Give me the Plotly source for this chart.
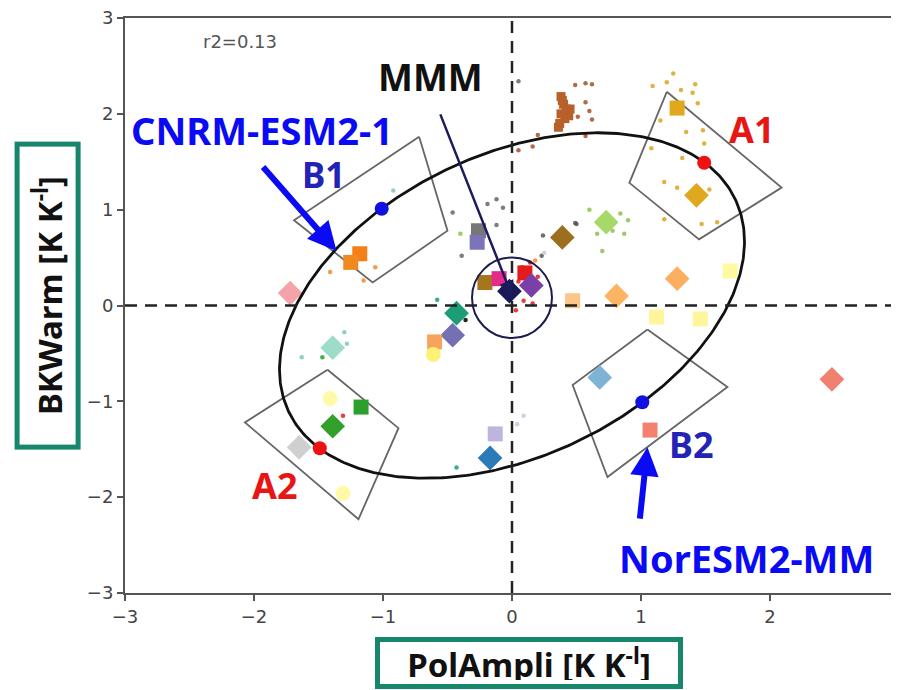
import numpy as np
import plotly.graph_objects as go

# ---------------- data ----------------
# large model markers
big_x = [-1.72, -1.18, -1.25, -1.39, -0.43, -0.46, -0.60, -0.61, -0.26, -0.27,
         -0.21, -0.10, 0.10, 0.15, 0.39, 0.73, 0.47, 0.81, 1.28, 1.69,
         1.12, 1.46, 0.68, 1.07, 2.48, 1.28, 1.43, -0.17, -0.13, -1.39,
         -1.17, -1.65, -1.41, -1.31, -0.02]
big_y = [0.13, 0.54, 0.45, -0.44, -0.08, -0.31, -0.38, -0.51, 0.78, 0.66,
         0.24, 0.28, 0.34, 0.21, 0.71, 0.87, 0.05, 0.10, 0.28, 0.36,
         -0.12, -0.14, -0.75, -1.30, -0.77, 2.06, 1.15, -1.59, -1.34, -1.26,
         -1.06, -1.48, -0.97, -1.96, 0.15]
big_sym = ["diamond", "square", "square", "diamond", "diamond", "diamond", "square", "circle", "square", "square",
           "square", "square", "square", "diamond", "diamond", "diamond", "square", "diamond", "diamond", "square",
           "square", "square", "diamond", "square", "diamond", "square", "diamond", "diamond", "square", "diamond",
           "square", "diamond", "circle", "circle", "diamond"]
big_col = ["#f4a3a8", "#f57f17", "#f08a20", "#9ddcc8", "#1b9e77", "#7570b3", "#f7a35c", "#fff176", "#777777", "#7b74b8",
           "#a6761d", "#e7298a", "#e41a1c", "#7b3fa8", "#9c6f1e", "#a6d96a", "#fdc58a", "#fdb462", "#fdae61", "#fffaa0",
           "#fff59a", "#fff59a", "#7fb3d5", "#f4806e", "#f08070", "#e0a81c", "#e0a81c", "#2c7bb6", "#bdb5de", "#33a02c",
           "#2ca02c", "#cfcfcf", "#fffaa8", "#fffaa8", "#1a1a5a"]

# dense cluster of one model (brown)
clu_x = [0.38, 0.40, 0.42, 0.38, 0.41, 0.37, 0.45, 0.44, 0.39, 0.36]
clu_y = [2.18, 2.10, 2.05, 2.00, 1.95, 1.90, 2.05, 1.98, 2.14, 1.86]

# small member dots
dot_x = [1.25, 1.20, 1.09, 1.31, 1.42, 1.40, 1.44, 1.15, 1.35, 1.48, 1.49, 1.08, 1.32, 1.18, 1.28, 1.53, 1.18, 1.47, 1.59,
         0.49, 0.57, 0.62, 0.57, 0.60, 0.62, 0.51, 0.57, 0.20, 0.16, 0.05, 0.05,
         -0.46, -0.19, -0.12, -0.07, -0.12, -0.39, -0.40,
         0.60, 0.84, 0.90, 0.87, 0.78, 0.66, 0.70, 0.50,
         0.24, 0.49, 0.23, 0.18,
         -1.41, -1.06, -1.15, -0.92,
         -1.30, -1.28, -1.63, -1.47,
         -1.31,
         0.08, 0.14, 0.05, 0.20, 0.09, 0.16, 0.03, 0.25,
         0.09, 0.04, -0.43,
         -0.58, -0.36]
dot_y = [2.42, 2.33, 2.29, 2.25, 2.31, 2.22, 2.11, 1.93, 1.81, 1.83, 1.69, 1.64, 1.54, 1.29, 1.23, 1.21, 0.90, 0.85, 0.87,
         2.30, 2.32, 2.31, 2.12, 2.03, 1.94, 1.97, 1.77, 1.78, 1.66, 1.62, 2.34,
         0.97, 1.06, 1.11, 1.02, 0.84, 0.52, 0.75,
         1.00, 0.96, 0.89, 0.75, 0.78, 0.75, 0.57, 0.85,
         0.73, 0.86, 0.52, 0.47,
         0.35, 0.40, 0.26, 1.20,
         -0.28, -0.40, -0.54, -0.54,
         -1.15,
         0.40, 0.45, 0.25, 0.30, 0.05, 0.02, -0.05, 0.55,
         -1.15, -1.24, -1.69,
         0.06, -0.15]
dot_col = ["#d9a520"] * 19 + ["#a0522d"] * 11 + ["#666666"] * 7 + ["#8fbf50"] * 8 + ["#555555"] * 4 + \
          ["#f08a30"] * 4 + ["#7fc9b5"] * 4 + ["#2ca02c"] + ["#e41a1c"] * 8 + ["#c8c8d8"] * 3 + ["#1b9e77"] * 2

# storyline points on the ellipse
story_x = [1.49, -1.49, -1.01, 1.01]
story_y = [1.49, -1.49, 1.01, -1.01]
story_col = ["#ee1111", "#ee1111", "#1010e0", "#1010e0"]

# ellipse parameters (centre, semi-axes along the 45 degree directions)
ell_cx, ell_cy = 0.0, 0.0
ell_a, ell_b = 2.11, 1.43
ell_angle_deg = 45.0

# storyline boxes (corners)
boxA1_x = [1.20, 2.09, 1.45, 0.91, 1.20]
boxA1_y = [2.23, 1.23, 0.69, 1.28, 2.23]
boxB1_x = [-0.72, -0.50, -1.08, -1.69, -0.72]
boxB1_y = [1.76, 0.78, 0.24, 0.89, 1.76]
boxA2_x = [-1.43, -0.88, -1.19, -2.07, -1.43]
boxA2_y = [-0.67, -1.28, -2.23, -1.22, -0.67]
boxB2_x = [1.05, 1.67, 0.74, 0.47, 1.05]
boxB2_y = [-0.25, -0.85, -1.79, -0.83, -0.25]

ticks = [-3, -2, -1, 0, 1, 2, 3]

# ---------------- figure ----------------
fig = go.Figure()

for bx, by in [(boxA1_x, boxA1_y), (boxB1_x, boxB1_y), (boxA2_x, boxA2_y), (boxB2_x, boxB2_y)]:
    fig.add_trace(go.Scatter(x=bx, y=by, mode="lines", line=dict(color="#666666", width=1.8),
                             hoverinfo="skip", showlegend=False))

fig.add_trace(go.Scatter(x=dot_x, y=dot_y, mode="markers",
                         marker=dict(size=4.5, color=dot_col, opacity=0.85),
                         showlegend=False))
fig.add_trace(go.Scatter(x=clu_x, y=clu_y, mode="markers",
                         marker=dict(size=9, symbol="square", color="#b8602a", opacity=1),
                         showlegend=False))
fig.add_trace(go.Scatter(x=big_x, y=big_y, mode="markers",
                         marker=dict(size=[19 if s == "diamond" else 15 for s in big_sym],
                                     symbol=big_sym, color=big_col, opacity=1, line=dict(width=0)),
                         showlegend=False))

t = np.linspace(0, 2 * np.pi, 400)
ang = np.deg2rad(ell_angle_deg)
ex = ell_cx + ell_a * np.cos(t) * np.cos(ang) - ell_b * np.sin(t) * np.sin(ang)
ey = ell_cy + ell_a * np.cos(t) * np.sin(ang) + ell_b * np.sin(t) * np.cos(ang)
fig.add_trace(go.Scatter(x=ex, y=ey, mode="lines", line=dict(color="#111111", width=2.8),
                         hoverinfo="skip", showlegend=False))

fig.add_trace(go.Scatter(x=story_x, y=story_y, mode="markers",
                         marker=dict(size=14, color=story_col, opacity=1), showlegend=False))

# reference lines and MMM circle
fig.add_shape(type="line", x0=0, x1=0, y0=-3, y1=3, xref="x", yref="y",
              line=dict(color="#222222", width=2.5, dash="12px,8px"))
fig.add_shape(type="line", x0=-3, x1=3, y0=0, y1=0, xref="x", yref="y",
              line=dict(color="#222222", width=2.5, dash="12px,8px"))
fig.add_shape(type="circle", x0=-0.31, x1=0.31, y0=-0.34, y1=0.50, xref="x", yref="y",
              line=dict(color="#1c1c4c", width=2))


def txt(x, y, s, size, color, family="Noto Sans", weight="bold"):
    fig.add_annotation(x=x, y=y, text=s, showarrow=False, xref="x", yref="y",
                       font=dict(family=family, size=size, color=color, weight=weight))


txt(-2.11, 2.75, "r2=0.13", 18, "#555555", family="DejaVu Sans", weight="normal")
txt(-0.63, 2.39, "MMM", 37, "#111111")
txt(-1.94, 1.83, "CNRM-ESM2-1", 38, "#0a0af5")
txt(-1.46, 1.37, "B1", 35, "#2323b5")
txt(1.86, 1.84, "A1", 36, "#e81515")
txt(-1.84, -1.88, "A2", 36, "#e81515")
txt(1.39, -1.45, "B2", 36, "#2323b5")
txt(1.82, -2.63, "NorESM2-MM", 38, "#0a0af5")

# arrows
fig.add_annotation(x=0.0, y=0.1, ax=-0.56, ay=2.01, axref="x", ayref="y", xref="x", yref="y",
                   text="", showarrow=True, arrowhead=2, arrowsize=1.2, arrowwidth=2.5, arrowcolor="#1c1c5c")
fig.add_annotation(x=-1.36, y=0.57, ax=-1.94, ay=1.46, axref="x", ayref="y", xref="x", yref="y",
                   text="", showarrow=True, arrowhead=2, arrowsize=0.95, arrowwidth=6, arrowcolor="#0a0af5")
fig.add_annotation(x=1.05, y=-1.48, ax=0.99, ay=-2.24, axref="x", ayref="y", xref="x", yref="y",
                   text="", showarrow=True, arrowhead=2, arrowsize=0.95, arrowwidth=6, arrowcolor="#0a0af5")

# axis titles in green boxes
fig.add_annotation(x=-0.1, y=0.5165, xref="paper", yref="paper", text="BKWarm [K K<sup>-l</sup>]",
                   textangle=-90, showarrow=False, width=290, height=48, borderpad=4, borderwidth=5,
                   bordercolor="#17866a", bgcolor="white", xanchor="center", yanchor="middle",
                   font=dict(family="Noto Sans", size=33, color="#111111", weight="bold"))
fig.add_annotation(x=0.5226, y=-0.1217, xref="paper", yref="paper", text="PolAmpli [K K<sup>-l</sup>]",
                   showarrow=False, width=290, height=34, borderpad=4, borderwidth=5,
                   bordercolor="#17866a", bgcolor="white", xanchor="center", yanchor="middle",
                   font=dict(family="Noto Sans", size=33, color="#111111", weight="bold"))

axis_common = dict(range=[-3, 3], tickvals=ticks, ticks="outside", ticklen=6, tickwidth=1.5,
                   tickcolor="#555555", showline=True, linecolor="#555555", linewidth=2,
                   showgrid=False, zeroline=False, automargin=False, ticklabeloverflow="allow",
                   tickfont=dict(family="DejaVu Sans", size=18, color="#444444"))
fig.update_xaxes(**axis_common, mirror=True)
fig.update_yaxes(**axis_common)

# page body has an 8px margin: compensate so the plot area sits where the reference has it
fig.update_layout(width=891, height=682, margin=dict(l=117, r=0, t=10, b=97),
                  plot_bgcolor="white", paper_bgcolor="white", showlegend=False)

fig.write_html("out.html")
